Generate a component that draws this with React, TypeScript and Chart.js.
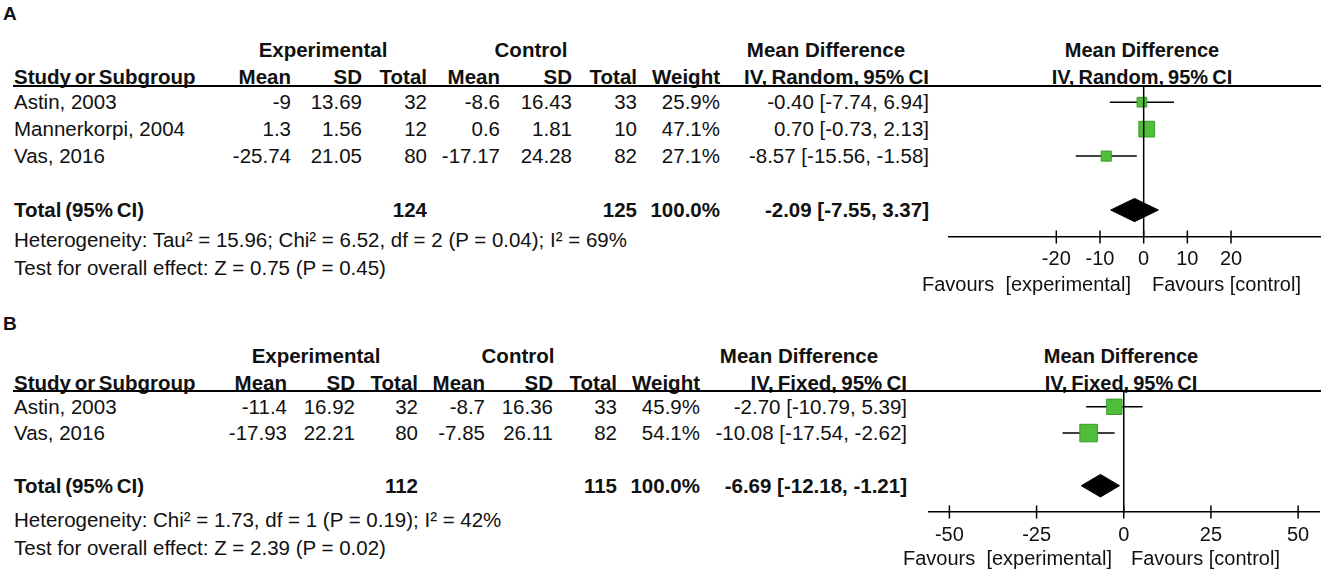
import React, { useEffect, useRef } from "react";
import { Chart, registerables } from "chart.js";

Chart.register(...registerables);

// ---------------- Data: panel A ----------------
const studiesA = ["Astin, 2003", "Mannerkorpi, 2004", "Vas, 2016"];
const expMeanA = [-9, 1.3, -25.74];
const expSdA = [13.69, 1.56, 21.05];
const expNA = [32, 12, 80];
const ctlMeanA = [-8.6, 0.6, -17.17];
const ctlSdA = [16.43, 1.81, 24.28];
const ctlNA = [33, 10, 82];
const weightA = [25.9, 47.1, 27.1];
const mdA = [-0.4, 0.7, -8.57];
const lowA = [-7.74, -0.73, -15.56];
const highA = [6.94, 2.13, -1.58];
const totalMdA = [-2.09, -7.55, 3.37]; // estimate, lower, upper
const totalNA = [124, 125];
const totalWeightA = 100.0;
const ticksA = [-20, -10, 0, 10, 20];
const hetA = "Heterogeneity: Tau² = 15.96; Chi² = 6.52, df = 2 (P = 0.04); I² = 69%";
const testA = "Test for overall effect: Z = 0.75 (P = 0.45)";

// ---------------- Data: panel B ----------------
const studiesB = ["Astin, 2003", "Vas, 2016"];
const expMeanB = [-11.4, -17.93];
const expSdB = [16.92, 22.21];
const expNB = [32, 80];
const ctlMeanB = [-8.7, -7.85];
const ctlSdB = [16.36, 26.11];
const ctlNB = [33, 82];
const weightB = [45.9, 54.1];
const mdB = [-2.7, -10.08];
const lowB = [-10.79, -17.54];
const highB = [5.39, -2.62];
const totalMdB = [-6.69, -12.18, -1.21];
const totalNB = [112, 115];
const totalWeightB = 100.0;
const ticksB = [-50, -25, 0, 25, 50];
const hetB = "Heterogeneity: Chi² = 1.73, df = 1 (P = 0.19); I² = 42%";
const testB = "Test for overall effect: Z = 2.39 (P = 0.02)";

// ---------------- Layout / style ----------------
const W = 1325;
const H = 588;
const FONT = '"Liberation Sans", Arial, Helvetica, sans-serif';
const TEXT = "#111";
const GREEN = "#4fbe3a";
const GREEN_EDGE = "#3a9a2a";
const TABLE_SIZE = 20.5;

type Panel = {
  letter: string;
  letterY: number;
  head1Y: number;
  head2Y: number;
  lineY: number;
  axisY: number;
  yMin: number;
  yMax: number;
  totalRow: number;
  cols: number[]; // right edges: expMean, expSd, expN, ctlMean, ctlSd, ctlN, weight, ci
  expCenter: number;
  ctlCenter: number;
  mdCenter: number;
  plotLeft: number;
  plotWidth: number;
  xMin: number;
  xMax: number;
  plotCenter: number;
  tickPad: number;
  hetY: number;
  testY: number;
  favY: number;
  favExpRight: number;
  favCtlLeft: number;
  method: string;
  studies: string[];
  expMean: number[];
  expSd: number[];
  expN: number[];
  ctlMean: number[];
  ctlSd: number[];
  ctlN: number[];
  weight: number[];
  md: number[];
  low: number[];
  high: number[];
  total: number[];
  totalN: number[];
  totalWeight: number;
  ticks: number[];
  het: string;
  test: string;
};

const panelA: Panel = {
  letter: "A",
  letterY: 14,
  head1Y: 50,
  head2Y: 77,
  lineY: 86,
  axisY: 237,
  yMin: 0.4,
  yMax: 6.0,
  totalRow: 5,
  cols: [291, 362, 427, 500, 572, 637, 720, 929],
  expCenter: 323,
  ctlCenter: 531,
  mdCenter: 826,
  plotLeft: 948,
  plotWidth: 373,
  xMin: -44.8,
  xMax: 40.6,
  plotCenter: 1142,
  tickPad: 10,
  hetY: 240,
  testY: 268,
  favY: 284,
  favExpRight: 1131,
  favCtlLeft: 1152,
  method: "IV, Random, 95% CI",
  studies: studiesA,
  expMean: expMeanA,
  expSd: expSdA,
  expN: expNA,
  ctlMean: ctlMeanA,
  ctlSd: ctlSdA,
  ctlN: ctlNA,
  weight: weightA,
  md: mdA,
  low: lowA,
  high: highA,
  total: totalMdA,
  totalN: totalNA,
  totalWeight: totalWeightA,
  ticks: ticksA,
  het: hetA,
  test: testA,
};

const panelB: Panel = {
  letter: "B",
  letterY: 324,
  head1Y: 356,
  head2Y: 383,
  lineY: 391,
  axisY: 512,
  yMin: 0.4,
  yMax: 5.0,
  totalRow: 4,
  cols: [287, 355, 418, 485, 553, 617, 700, 907],
  expCenter: 316,
  ctlCenter: 518,
  mdCenter: 799,
  plotLeft: 924,
  plotWidth: 396,
  xMin: -56,
  xMax: 56,
  plotCenter: 1121,
  tickPad: 11,
  hetY: 520,
  testY: 548,
  favY: 558,
  favExpRight: 1112,
  favCtlLeft: 1131,
  method: "IV, Fixed, 95% CI",
  studies: studiesB,
  expMean: expMeanB,
  expSd: expSdB,
  expN: expNB,
  ctlMean: ctlMeanB,
  ctlSd: ctlSdB,
  ctlN: ctlNB,
  weight: weightB,
  md: mdB,
  low: lowB,
  high: highB,
  total: totalMdB,
  totalN: totalNB,
  totalWeight: totalWeightB,
  ticks: ticksB,
  het: hetB,
  test: testB,
};

const squareSide = (w: number) => 0.72 * Math.pow(w, 0.8);
const DIAMOND_HALF = 0.43; // in row units

type TProps = {
  x: number;
  y: number;
  align: "left" | "right" | "center";
  bold?: boolean;
  size?: number;
  ws?: number;
  children: string;
};

function T({ x, y, align, bold, size = TABLE_SIZE, ws, children }: TProps) {
  const style: React.CSSProperties = {
    position: "absolute",
    top: y - 12,
    fontSize: size,
    lineHeight: "24px",
    fontWeight: bold ? "bold" : "normal",
    whiteSpace: "pre",
    color: TEXT,
    fontFamily: FONT,
  };
  if (ws !== undefined) style.wordSpacing = ws + "px";
  if (align === "left") style.left = x;
  else if (align === "right") style.right = W - x;
  else {
    style.left = x;
    style.transform = "translateX(-50%)";
  }
  return <div style={style}>{children}</div>;
}

function ForestChart({ p }: { p: Panel }) {
  const ref = useRef<HTMLCanvasElement | null>(null);
  const height = p.axisY - p.lineY + 24 + 2 * p.tickPad;

  useEffect(() => {
    if (!ref.current) return;
    const tr = p.totalRow;
    const datasets: any[] = [];
    // vertical line of no effect (drawn on top)
    datasets.push({
      type: "line",
      data: [
        { x: 0, y: p.yMin },
        { x: 0, y: p.yMax },
      ],
      borderColor: "#000",
      borderWidth: 1.5,
      pointRadius: 0,
      fill: false,
      clip: false,
    });
    // study squares
    datasets.push({
      type: "scatter",
      data: p.md.map((m, i) => ({ x: m, y: i + 1 })),
      pointStyle: "rect",
      pointRadius: (ctx: any) => squareSide(p.weight[ctx.dataIndex] ?? 30) / (2 * Math.SQRT1_2),
      pointHoverRadius: (ctx: any) => squareSide(p.weight[ctx.dataIndex] ?? 30) / (2 * Math.SQRT1_2),
      backgroundColor: GREEN,
      borderColor: GREEN_EDGE,
      borderWidth: 1,
    });
    // pooled diamond
    datasets.push({
      type: "line",
      data: [
        { x: p.total[1], y: tr },
        { x: p.total[0], y: tr - DIAMOND_HALF },
        { x: p.total[2], y: tr },
        { x: p.total[0], y: tr + DIAMOND_HALF },
        { x: p.total[1], y: tr },
      ],
      borderColor: "#000",
      backgroundColor: "#000",
      borderWidth: 1,
      pointRadius: 0,
      fill: "shape",
      tension: 0,
    });
    // confidence intervals
    p.md.forEach((_, i) => {
      datasets.push({
        type: "line",
        data: [
          { x: p.low[i], y: i + 1 },
          { x: p.high[i], y: i + 1 },
        ],
        borderColor: "#000",
        borderWidth: 1.5,
        pointRadius: 0,
        fill: false,
      });
    });
    // tick marks crossing the axis
    datasets.push({
      type: "scatter",
      data: p.ticks.map((t) => ({ x: t, y: p.yMax })),
      pointStyle: "line",
      rotation: 90,
      pointRadius: 6.5,
      pointHoverRadius: 6.5,
      borderColor: "#000",
      borderWidth: 1.5,
      clip: false,
    });

    const chart = new Chart(ref.current, {
      type: "scatter",
      data: { datasets },
      options: {
        animation: false,
        responsive: false,
        maintainAspectRatio: false,
        events: [],
        layout: { padding: 0, autoPadding: false },
        plugins: {
          legend: { display: false },
          tooltip: { enabled: false },
          title: { display: false },
        },
        scales: {
          x: {
            type: "linear",
            min: p.xMin,
            max: p.xMax,
            afterBuildTicks: (scale: any) => {
              scale.ticks = p.ticks.map((v) => ({ value: v }));
            },
            grid: { display: false, drawTicks: false },
            border: { display: true, color: "#000", width: 1.5 },
            ticks: {
              color: TEXT,
              font: { family: FONT, size: 20 },
              padding: p.tickPad,
              maxRotation: 0,
              autoSkip: false,
              callback: (v: any) => String(v),
            },
          },
          y: {
            type: "linear",
            display: false,
            min: p.yMin,
            max: p.yMax,
            reverse: true,
          },
        },
      } as any,
    });
    return () => chart.destroy();
  }, [p]);

  return (
    <canvas
      ref={ref}
      width={p.plotWidth}
      height={height}
      style={{
        position: "absolute",
        left: p.plotLeft,
        top: p.lineY,
        width: p.plotWidth,
        height: height,
      }}
    />
  );
}

function PanelView({ p }: { p: Panel }) {
  const rowY = (row: number) =>
    p.lineY + ((row - p.yMin) / (p.yMax - p.yMin)) * (p.axisY - p.lineY);
  const c = p.cols;
  const ty = rowY(p.totalRow);
  return (
    <>
      <T x={3} y={p.letterY} align="left" bold size={19}>
        {p.letter}
      </T>
      {/* header row 1 */}
      <T x={p.expCenter} y={p.head1Y} align="center" bold>
        Experimental
      </T>
      <T x={p.ctlCenter} y={p.head1Y} align="center" bold>
        Control
      </T>
      <T x={p.mdCenter} y={p.head1Y} align="center" bold>
        Mean Difference
      </T>
      <T x={p.plotCenter} y={p.head1Y} align="center" bold size={20}>
        Mean Difference
      </T>
      {/* header row 2 */}
      <T x={14} y={p.head2Y} align="left" bold ws={-2}>
        Study or Subgroup
      </T>
      <T x={c[0]} y={p.head2Y} align="right" bold>
        Mean
      </T>
      <T x={c[1]} y={p.head2Y} align="right" bold>
        SD
      </T>
      <T x={c[2]} y={p.head2Y} align="right" bold>
        Total
      </T>
      <T x={c[3]} y={p.head2Y} align="right" bold>
        Mean
      </T>
      <T x={c[4]} y={p.head2Y} align="right" bold>
        SD
      </T>
      <T x={c[5]} y={p.head2Y} align="right" bold>
        Total
      </T>
      <T x={c[6]} y={p.head2Y} align="right" bold>
        Weight
      </T>
      <T x={c[7]} y={p.head2Y} align="right" bold ws={-1.5}>
        {p.method}
      </T>
      <T x={p.plotCenter} y={p.head2Y} align="center" bold ws={-1.5} size={20}>
        {p.method}
      </T>
      <div
        style={{
          position: "absolute",
          left: 13,
          top: p.lineY - 0.75,
          width: 1321 - 13,
          height: 1.5,
          background: "#000",
        }}
      />
      {/* study rows */}
      {p.studies.map((s, i) => {
        const y = rowY(i + 1);
        return (
          <React.Fragment key={s}>
            <T x={14} y={y} align="left">
              {s}
            </T>
            <T x={c[0]} y={y} align="right">
              {String(p.expMean[i])}
            </T>
            <T x={c[1]} y={y} align="right">
              {String(p.expSd[i])}
            </T>
            <T x={c[2]} y={y} align="right">
              {String(p.expN[i])}
            </T>
            <T x={c[3]} y={y} align="right">
              {String(p.ctlMean[i])}
            </T>
            <T x={c[4]} y={y} align="right">
              {String(p.ctlSd[i])}
            </T>
            <T x={c[5]} y={y} align="right">
              {String(p.ctlN[i])}
            </T>
            <T x={c[6]} y={y} align="right">
              {p.weight[i].toFixed(1) + "%"}
            </T>
            <T x={c[7]} y={y} align="right">
              {`${p.md[i].toFixed(2)} [${p.low[i].toFixed(2)}, ${p.high[i].toFixed(2)}]`}
            </T>
          </React.Fragment>
        );
      })}
      {/* total row */}
      <T x={14} y={ty} align="left" bold ws={-2}>
        Total (95% CI)
      </T>
      <T x={c[2]} y={ty} align="right" bold>
        {String(p.totalN[0])}
      </T>
      <T x={c[5]} y={ty} align="right" bold>
        {String(p.totalN[1])}
      </T>
      <T x={c[6]} y={ty} align="right" bold>
        {p.totalWeight.toFixed(1) + "%"}
      </T>
      <T x={c[7]} y={ty} align="right" bold>
        {`${p.total[0].toFixed(2)} [${p.total[1].toFixed(2)}, ${p.total[2].toFixed(2)}]`}
      </T>
      <T x={14} y={p.hetY} align="left">
        {p.het}
      </T>
      <T x={14} y={p.testY} align="left">
        {p.test}
      </T>
      <ForestChart p={p} />
      <T x={p.favExpRight} y={p.favY} align="right" size={20}>
        {"Favours  [experimental]"}
      </T>
      <T x={p.favCtlLeft} y={p.favY} align="left" size={20}>
        {"Favours [control]"}
      </T>
    </>
  );
}

export default function App() {
  return (
    <div
      style={{
        position: "absolute",
        left: 0,
        top: 0,
        width: W,
        height: H,
        background: "#fff",
        overflow: "hidden",
        fontFamily: FONT,
      }}
    >
      <PanelView p={panelA} />
      <PanelView p={panelB} />
    </div>
  );
}
